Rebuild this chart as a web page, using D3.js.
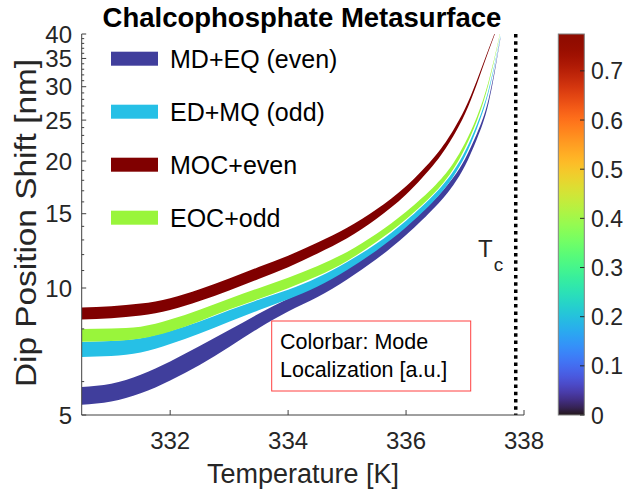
<!DOCTYPE html>
<meta charset="utf-8">
<style>
body { margin: 0; background: #fff; }
svg text { font-family: "Liberation Sans", Arial, sans-serif; fill: #262626; }
</style>
<body>
<script src="https://cdn.jsdelivr.net/npm/d3@7"></script>
<script>
// temperature grid [K]
var temps = [330.5, 331, 331.5, 332, 332.5, 333, 333.5, 334, 334.5, 335, 335.5, 336, 336.5, 336.8, 337, 337.2, 337.4, 337.6];

// band centres [nm] and relative half-widths [%]
var mdeqMid    = [5.55, 5.65, 5.92, 6.36, 6.92, 7.59, 8.35, 9.11, 9.84, 10.79, 12.04, 13.69, 15.95, 17.90, 19.85, 22.87, 27.75, 39.14];
var mdeqSpread = [5.0, 5.0, 5.2, 5.3, 5.3, 4.7, 4.0, 3.5, 3.3, 3.0, 2.8, 2.5, 2.2, 2.1, 1.9, 1.5, 1.1, 0.3];
var edmqMid    = [7.15, 7.19, 7.31, 7.63, 8.06, 8.58, 9.11, 9.65, 10.33, 11.28, 12.51, 14.18, 16.52, 18.64, 20.80, 24.12, 29.35, 39.48];
var edmqSpread = [4.2, 4.2, 4.0, 3.6, 3.3, 3.2, 2.9, 2.6, 2.5, 2.2, 1.9, 1.8, 1.65, 1.5, 1.4, 1.1, 0.7, 0.27];
var mocMid     = [8.70, 8.76, 8.89, 9.16, 9.62, 10.19, 10.85, 11.56, 12.44, 13.50, 14.98, 17.04, 20.23, 23.28, 26.26, 30.73, 36.66, 43.42];
var mocSpread  = [3.3, 3.3, 3.3, 3.3, 3.3, 3.3, 3.3, 3.2, 3.0, 2.9, 2.6, 2.3, 1.9, 1.65, 1.4, 1.0, 0.55, 0.27];
var eocMid     = [7.72, 7.75, 7.84, 8.15, 8.61, 9.16, 9.70, 10.28, 10.97, 11.88, 13.15, 14.85, 17.22, 19.43, 21.75, 25.14, 30.70, 40.48];
var eocSpread  = [3.5, 3.5, 3.3, 3.3, 3.2, 3.0, 3.0, 2.9, 2.8, 2.5, 2.2, 2.1, 1.9, 1.65, 1.4, 1.1, 0.7, 0.27];

var seriesNames  = ['MD+EQ (even)', 'ED+MQ (odd)', 'MOC+even', 'EOC+odd'];
var seriesColors = ['#403e9c', '#26c0e6', '#800000', '#99f53b'];

var yTicks = [5, 10, 15, 20, 25, 30, 35, 40];
var yMinor = [6, 8, 11, 12, 13, 14, 16, 17, 18, 19, 21, 22, 23, 24, 26, 27, 28, 29, 31, 32, 33, 34, 36, 37, 38, 39];
var xTicks = [332, 334, 336, 338];
var cbTicks = [0, 0.1, 0.2, 0.3, 0.4, 0.5, 0.6, 0.7];
var tc = 337.86;

var W = 624, H = 495;
var svg = d3.select('body').append('svg').attr('width', W).attr('height', H);

var x = d3.scaleLinear().domain([330.5, 338]).range([81.7, 524]);
var y = d3.scaleLog().domain([5, 40]).range([415, 34]);

svg.append('clipPath').attr('id', 'plotclip')
  .append('rect').attr('x', 81.7).attr('y', 34).attr('width', 524 - 81.7).attr('height', 415 - 34);

// bands
var mids = [mdeqMid, edmqMid, mocMid, eocMid];
var spreads = [mdeqSpread, edmqSpread, mocSpread, eocSpread];
var area = d3.area()
  .x(function(d) { return x(d.t); })
  .y0(function(d) { return y(d.m / (1 + d.s / 100)); })
  .y1(function(d) { return y(d.m * (1 + d.s / 100)); })
  .curve(d3.curveNatural);

var bands = svg.append('g').attr('clip-path', 'url(#plotclip)');
mids.forEach(function(m, i) {
  var pts = temps.map(function(t, j) { return {t: t, m: m[j], s: spreads[i][j]}; });
  bands.append('path').datum(pts)
    .attr('d', area)
    .attr('fill', seriesColors[i]);
});

// Tc line
svg.append('line')
  .attr('x1', x(tc)).attr('x2', x(tc))
  .attr('y1', y(40)).attr('y2', y(5))
  .attr('stroke', '#000').attr('stroke-width', 3.5)
  .attr('stroke-dasharray', '3.5,3.8');

svg.append('text').attr('x', 478).attr('y', 257).attr('font-size', 24).text('T')
  .append('tspan').attr('dx', 1).attr('dy', 14).attr('font-size', 19).text('c');

// axes
var axisCol = '#404040';
svg.append('line').attr('x1', x(330.5)).attr('x2', x(338)).attr('y1', 415).attr('y2', 415)
  .attr('stroke', axisCol).attr('stroke-width', 1);
svg.append('line').attr('x1', x(330.5)).attr('x2', x(330.5)).attr('y1', 34).attr('y2', 415)
  .attr('stroke', axisCol).attr('stroke-width', 1);

svg.selectAll('.xt').data(xTicks).enter().append('line')
  .attr('x1', x).attr('x2', x).attr('y1', 415).attr('y2', 410)
  .attr('stroke', axisCol);
svg.selectAll('.xl').data(xTicks).enter().append('text')
  .attr('x', x).attr('y', 449).attr('text-anchor', 'middle').attr('font-size', 24)
  .text(function(d) { return d; });

svg.selectAll('.yt').data(yTicks).enter().append('line')
  .attr('x1', x(330.5)).attr('x2', x(330.5) + 4.5).attr('y1', y).attr('y2', y)
  .attr('stroke', axisCol);
svg.selectAll('.ym').data(yMinor).enter().append('line')
  .attr('x1', x(330.5)).attr('x2', x(330.5) + 2.5).attr('y1', y).attr('y2', y)
  .attr('stroke', axisCol);
svg.selectAll('.yl').data(yTicks).enter().append('text')
  .attr('x', 72).attr('y', function(d) { return y(d) + 8.5; })
  .attr('text-anchor', 'end').attr('font-size', 24)
  .text(function(d) { return d; });

svg.append('text').attr('x', 303).attr('y', 483).attr('text-anchor', 'middle')
  .attr('font-size', 27).text('Temperature [K]');
svg.append('text').attr('transform', 'translate(36,223) rotate(-90)')
  .attr('text-anchor', 'middle').attr('font-size', 29)
  .attr('textLength', 328).attr('lengthAdjust', 'spacingAndGlyphs')
  .text('Dip Position Shift [nm]');

svg.append('text').attr('x', 302).attr('y', 27).attr('text-anchor', 'middle')
  .attr('font-size', 27.5).attr('font-weight', 'bold').style('fill', '#000')
  .text('Chalcophosphate Metasurface');

// legend
var leg = svg.append('g');
seriesNames.forEach(function(n, i) {
  var cy = 58.7 + i * 53;
  leg.append('rect').attr('x', 111).attr('y', cy - 7).attr('width', 47).attr('height', 14)
    .attr('fill', seriesColors[i]);
  leg.append('text').attr('x', 170).attr('y', cy + 9).attr('font-size', 25).style('fill', '#000').text(n);
});

// annotation box
svg.append('rect').attr('x', 271.7).attr('y', 321).attr('width', 199).attr('height', 70)
  .attr('fill', '#fff').attr('stroke', '#ff4040').attr('stroke-width', 1);
svg.append('text').attr('x', 280).attr('y', 349.3).attr('font-size', 21.5).style('fill', '#000').text('Colorbar: Mode');
svg.append('text').attr('x', 280).attr('y', 376.7).attr('font-size', 21.5).style('fill', '#000').text('Localization [a.u.]');

// colorbar
var cb = d3.scaleLinear().domain([0, 0.775]).range([415, 34]);
var grad = svg.append('defs').append('linearGradient').attr('id', 'turbo')
  .attr('x1', 0).attr('x2', 0).attr('y1', 1).attr('y2', 0);
d3.range(0, 1.0001, 0.02).forEach(function(t) {
  grad.append('stop').attr('offset', t).attr('stop-color', d3.interpolateTurbo(t));
});
svg.append('rect').attr('x', 558.3).attr('y', 34).attr('width', 26).attr('height', 381)
  .attr('fill', 'url(#turbo)').attr('stroke', '#808080').attr('stroke-width', 1);
svg.selectAll('.ct').data(cbTicks).enter().append('line')
  .attr('x1', 584.3).attr('x2', 580).attr('y1', cb).attr('y2', cb)
  .attr('stroke', '#262626');
svg.selectAll('.cl').data(cbTicks).enter().append('text')
  .attr('x', 591).attr('y', function(d) { return cb(d) + 8.5; })
  .attr('font-size', 23)
  .text(function(d) { return d; });
</script>
</body>
